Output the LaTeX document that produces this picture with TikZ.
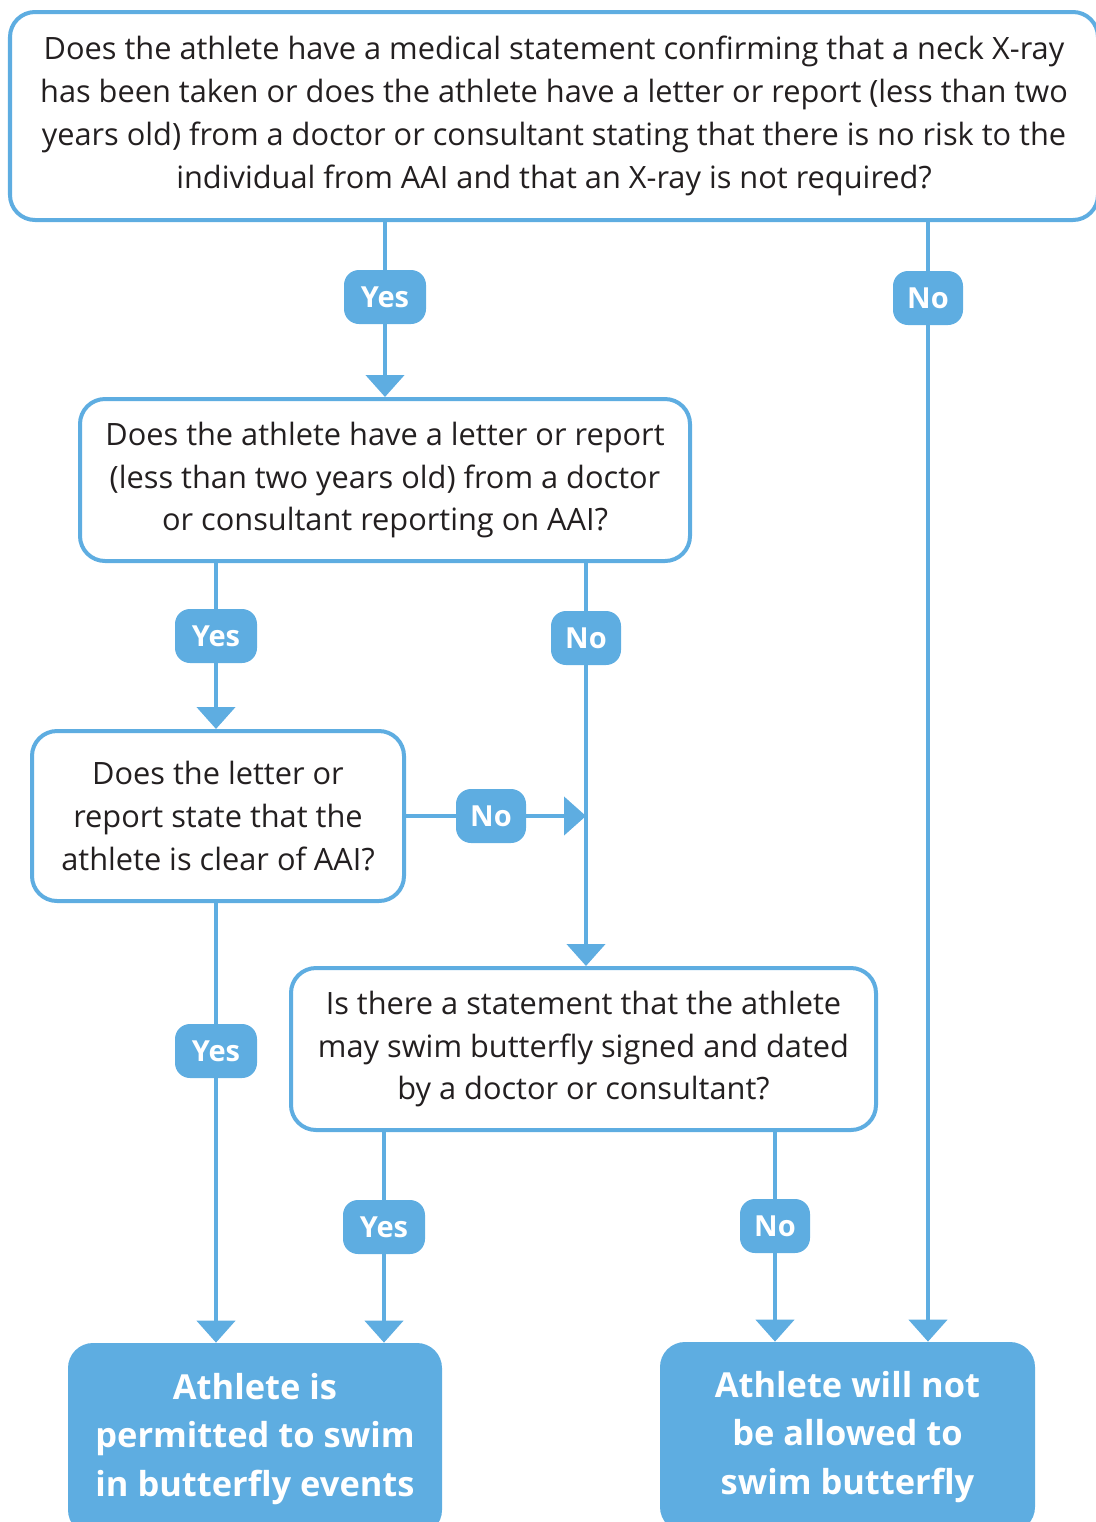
\documentclass[tikz,border=0pt]{standalone}
\usepackage{fontspec}
\setmainfont{Open Sans}
\usepackage{xcolor}
\usetikzlibrary{arrows.meta,calc,positioning}
\definecolor{swimblue}{RGB}{94,173,225}
\definecolor{ink}{RGB}{35,31,32}

\begin{document}
\begin{tikzpicture}[-,auto,
                    question/.style={rectangle,rounded corners=0.5cm,draw=swimblue,line width=0.08cm,fill=white,text=ink,align=center,inner sep=0pt,font=\fontsize{17.5}{24.4}\selectfont},
                    outcome/.style={rectangle,rounded corners=0.5cm,fill=swimblue,text=white,align=center,inner sep=0pt,font=\fontsize{19.6}{27.6}\selectfont\bfseries},
                    answer/.style={rectangle,rounded corners=0.3cm,fill=swimblue,text=white,inner sep=0pt,minimum height=1.08cm,font=\fontsize{16.5}{16.5}\selectfont\bfseries},
                    yeslabel/.style={answer,minimum width=1.64cm},
                    nolabel/.style={answer,minimum width=1.4cm},
                    flow/.style={color=swimblue,line width=0.09cm},
                    flowarrow/.style={flow,-{Triangle[length=0.44cm,width=0.76cm,fill=swimblue]}}]

  \useasboundingbox (0,0) rectangle (21.92,-30.44);

  \node[question,minimum width=21.76cm,minimum height=4.16cm] (q1) at (11.08,-2.32)
    {Does the athlete have a medical statement confirming that a neck X-ray\\
     has been taken or does the athlete have a letter or report (less than two\\
     years old) from a doctor or consultant stating that there is no risk to the\\
     individual from AAI and that an X-ray is not required?};
  \node[question,minimum width=12.2cm,minimum height=3.24cm] (q2) at (7.7,-9.6)
    {Does the athlete have a letter or report\\
     (less than two years old) from a doctor\\
     or consultant reporting on AAI?};
  \node[question,minimum width=7.44cm,minimum height=3.4cm] (q3) at (4.36,-16.32)
    {Does the letter or\\
     report state that the\\
     athlete is clear of AAI?};
  \node[question,minimum width=11.7cm,minimum height=3.24cm] (q4) at (11.67,-20.98)
    {Is there a statement that the athlete\\
     may swim butterfly signed and dated\\
     by a doctor or consultant?};

  \node[outcome,minimum width=7.48cm,minimum height=3.84cm] (r1) at (5.1,-28.78)
    {Athlete is\\ permitted to swim\\ in butterfly events};
  \node[outcome,minimum width=7.5cm,minimum height=3.8cm] (r2) at (16.95,-28.74)
    {Athlete will not\\ be allowed to\\ swim butterfly};

  \node[yeslabel] (y1) at (7.7,-5.94) {Yes};
  \node[nolabel] (n1) at (18.56,-5.96) {No};
  \node[yeslabel] (y2) at (4.32,-12.72) {Yes};
  \node[nolabel] (n2) at (11.72,-12.76) {No};
  \node[nolabel] (n3) at (9.82,-16.32) {No};
  \node[yeslabel] (y3) at (4.32,-21.02) {Yes};
  \node[yeslabel] (y4) at (7.68,-24.54) {Yes};
  \node[nolabel] (n4) at (15.5,-24.52) {No};

  \path[flow]
  (y1 |- q1.south) edge (y1)
  (n1 |- q1.south) edge (n1)
  (y2 |- q2.south) edge (y2)
  (n2 |- q2.south) edge (n2)
  (q3.east) edge (n3)
  (y3 |- q3.south) edge (y3)
  (y4 |- q4.south) edge (y4)
  (n4 |- q4.south) edge (n4);

  \path[flowarrow]
  (y1) edge (y1 |- q2.north)
  (y2) edge (y2 |- q3.north)
  (n2) edge (n2 |- q4.north)
  (n3) edge (n3 -| n2)
  (y3) edge (y3 |- r1.north)
  (y4) edge (y4 |- r1.north)
  (n4) edge (n4 |- r2.north)
  (n1) edge (n1 |- r2.north);

\end{tikzpicture}
\end{document}
